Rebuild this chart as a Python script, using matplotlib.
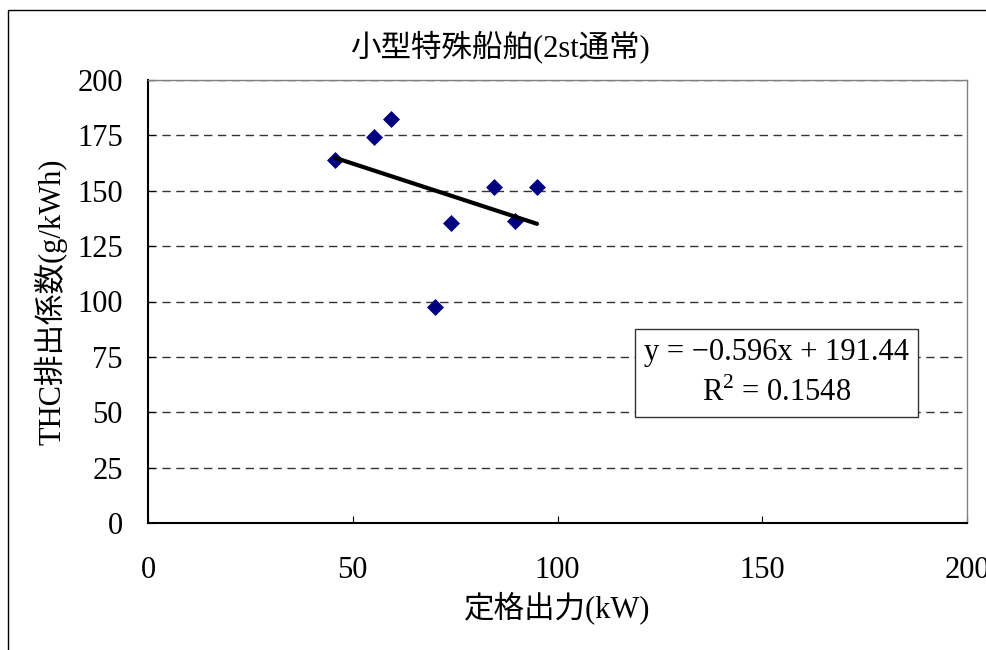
import numpy as np
import matplotlib
matplotlib.use("Agg")
import matplotlib.pyplot as plt
from matplotlib.patches import Rectangle

# data
power_kw = [45.7, 55.2, 59.3, 70.1, 74.0, 84.5, 89.6, 95.0]
thc = [163.7, 174.4, 182.5, 97.3, 135.5, 151.8, 136.3, 151.8]
x_ticks = [0, 50, 100, 150, 200]
y_ticks = [0, 25, 50, 75, 100, 125, 150, 175, 200]
title = "小型特殊船舶(2st通常)"
xlabel = "定格出力(kW)"
ylabel = "THC排出係数(g/kWh)"
eq_text = "y = \u22120.596x + 191.44\nR$^2$ = 0.1548"

FAM = ["Liberation Serif", "Noto Sans CJK JP", "DejaVu Sans"]
plt.rcParams["font.family"] = FAM
plt.rcParams["mathtext.fontset"] = "custom"
plt.rcParams["mathtext.rm"] = "Liberation Serif"

fig = plt.figure(figsize=(9.87, 6.5), dpi=100)
W, H = 987, 650
ax = fig.add_axes([148 / W, 1 - 523 / H, (967 - 148) / W, (523 - 80) / H])

# outer chart border
fig.patches.append(Rectangle((8 / W, -0.1), 1.2, 1 - 10 / H + 0.1,
                             transform=fig.transFigure, fill=False,
                             edgecolor="black", linewidth=1.0))

ax.set_xlim(0, 200)
ax.set_ylim(0, 200)
ax.set_xticks(x_ticks)
ax.set_yticks(y_ticks)
ax.yaxis.grid(True, linestyle=(0, (6, 4)), color="#333333", linewidth=1.0)
ax.set_axisbelow(True)

ax.scatter(power_kw, thc, marker="D", s=75, color="#000080", zorder=3,
           linewidths=0)

coef = np.polyfit(power_kw, thc, 1)
xs = np.array([min(power_kw), max(power_kw)])
ax.plot(xs, np.polyval(coef, xs), color="black", linewidth=3, zorder=4,
        solid_capstyle="round")

ax.tick_params(direction="in", length=5, labelsize=22, colors="black")
ax.tick_params(axis="x", pad=24)
ax.tick_params(axis="y", pad=18)
for s in ["left", "bottom"]:
    ax.spines[s].set_color("black")
    ax.spines[s].set_linewidth(1.5)
for s in ["right", "top"]:
    ax.spines[s].set_color("#808080")
    ax.spines[s].set_linewidth(1.0)

ax.set_xlabel(xlabel, fontsize=22, labelpad=4)
ax.set_ylabel(ylabel, fontsize=22, labelpad=7)
fig.text(0.507, 1 - 47 / H, title, fontsize=22, ha="center", va="center")

ax.text(0.767, 0.339, eq_text, transform=ax.transAxes, fontsize=22,
        ha="center", va="center", multialignment="center", zorder=5,
        linespacing=1.45,
        bbox=dict(boxstyle="square,pad=0.3", facecolor="white",
                  edgecolor="#333333", linewidth=1.0))

fig.savefig("out.png", dpi=100, facecolor="white")
